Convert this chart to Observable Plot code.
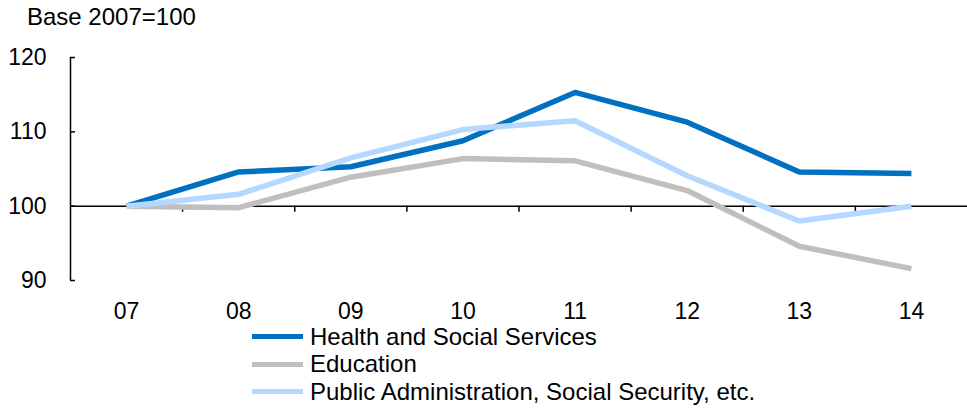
<!DOCTYPE html>
<html>
<head>
<meta charset="utf-8">
<script src="https://cdn.jsdelivr.net/npm/d3@7"></script>
<script src="https://cdn.jsdelivr.net/npm/@observablehq/plot@0.6"></script>
<style>
  html, body { margin: 0; padding: 0; background: #fff; }
  body { width: 967px; height: 408px; position: relative; overflow: hidden;
         font-family: "Liberation Sans", Arial, sans-serif; color: #000; }
  #title { position: absolute; left: 27px; top: 3px; font-size: 24px; line-height: 28px; }
  #chart { position: absolute; left: 0; top: 40px; }
  #legend { position: absolute; left: 252px; top: 323px; font-size: 24px; }
  .row { display: flex; align-items: center; height: 27.5px; }
  .sw { width: 51px; height: 5px; margin-right: 7px; }
</style>
</head>
<body>
<div id="title">Base 2007=100</div>
<div id="chart"></div>
<div id="legend"></div>
<script>
const years = ["07", "08", "09", "10", "11", "12", "13", "14"];
const health = [100, 104.6, 105.3, 108.8, 115.3, 111.3, 104.6, 104.4];
const education = [100, 99.8, 103.9, 106.4, 106.1, 102.1, 94.6, 91.6];
const publicAdmin = [100, 101.6, 106.5, 110.3, 111.5, 104.1, 98.0, 100.0];
const seriesNames = ["Health and Social Services", "Education", "Public Administration, Social Security, etc."];
const seriesColors = ["#0070C0", "#BFBFBF", "#B4D8FF"];
const yTicks = [90, 100, 110, 120];

const seriesValues = [health, education, publicAdmin];
const rows = seriesValues.flatMap((vals, s) =>
  vals.map((v, i) => ({series: seriesNames[s], i, year: years[i], value: v})));
const boundaries = years.slice(1).map((_, k) => k + 0.5);

const plot = Plot.plot({
  width: 967,
  height: 290,
  marginLeft: 70,
  marginRight: 0,
  marginTop: 17,
  marginBottom: 50,
  style: {fontFamily: "'Liberation Sans', Arial, sans-serif", fontSize: "23px", color: "#000", background: "#fff"},
  x: {domain: [-0.5, years.length - 0.5]},
  y: {domain: [90, 120]},
  color: {domain: seriesNames, range: seriesColors},
  marks: [
    Plot.axisY(yTicks, {tickSize: 0, tickPadding: 24, label: null, fontSize: 23}),
    Plot.axisX(years.map((_, i) => i), {tickSize: 0, tickPadding: 22, label: null, fontSize: 23, tickFormat: i => years[i]}),
    Plot.ruleX([-0.5], {stroke: "#000", strokeWidth: 1.5}),
    Plot.ruleY(yTicks, {x1: -0.5, x2: -0.5, insetRight: -5, stroke: "#000", strokeWidth: 1.5}),
    Plot.ruleY([100], {stroke: "#000", strokeWidth: 1.5}),
    Plot.ruleX(boundaries, {y1: 100, y2: 100, insetBottom: -6, stroke: "#000", strokeWidth: 1.5}),
    Plot.line(rows, {x: "i", y: "value", z: "series", stroke: "series", strokeWidth: 5.5, strokeLinejoin: "round", strokeLinecap: "butt"})
  ]
});
document.getElementById("chart").appendChild(plot);

const legend = document.getElementById("legend");
seriesNames.forEach((name, s) => {
  const row = document.createElement("div");
  row.className = "row";
  const sw = document.createElement("span");
  sw.className = "sw";
  sw.style.background = seriesColors[s];
  const label = document.createElement("span");
  label.textContent = name;
  row.appendChild(sw);
  row.appendChild(label);
  legend.appendChild(row);
});
</script>
</body>
</html>
